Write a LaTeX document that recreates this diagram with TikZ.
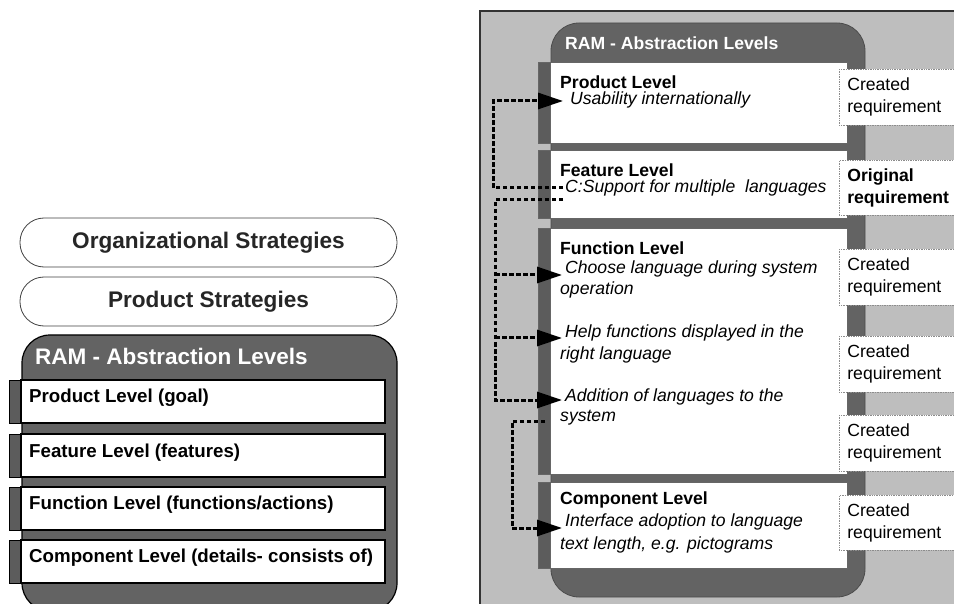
\documentclass[tikz,border=0pt]{standalone}
\usepackage{fontspec}
\setmainfont{Liberation Sans}
\usetikzlibrary{arrows.meta}
\definecolor{panelgray}{HTML}{BEBEBE}
\definecolor{ramdark}{HTML}{636363}
\definecolor{tabdark}{HTML}{5C5C5C}
\begin{document}
\begin{tikzpicture}[x=1pt,y=-1pt,
  pill/.style={draw=black!75, line width=0.8pt, fill=white, rounded corners=24pt,
    minimum width=377pt, minimum height=49pt, inner sep=0pt,
    font=\fontsize{22.6}{27}\selectfont\bfseries, text=black!85},
  titleL/.style={anchor=west, inner sep=0pt, text=white, font=\fontsize{22.5}{27}\selectfont\bfseries},
  titleR/.style={anchor=west, inner sep=0pt, text=white, font=\fontsize{17.6}{22}\selectfont\bfseries},
  lvlL/.style={anchor=west, inner sep=0pt, font=\fontsize{18.7}{22}\selectfont\bfseries},
  lvlR/.style={anchor=west, inner sep=0pt, font=\fontsize{17.6}{22}\selectfont\bfseries},
  itx/.style={anchor=west, inner sep=0pt, font=\fontsize{17.6}{22}\selectfont\itshape},
  reqbox/.style={anchor=north west, draw=black!45, densely dotted, line width=0.7pt, fill=white,
    text width=105pt, inner xsep=8pt, inner ysep=0pt, minimum height=56pt, align=left,
    font=\fontsize{17.6}{22}\selectfont},
  conn/.style={line width=3pt, dash pattern=on 4.5pt off 2.5pt, line cap=butt},
  tip/.style={-{Triangle[length=25pt,width=16pt]}}
]
\useasboundingbox (0,0) rectangle (954,604);
\clip (0,0) rectangle (954,604);

% ---------------- left panel ----------------
\node[pill] (org) at (208.5,242.5) {Organizational Strategies};
\node[pill] (pstrat) at (208.5,301.5) {Product Strategies};
\draw[fill=ramdark, draw=black, line width=1.2pt, rounded corners=28pt] (22,335) rectangle (397,611);
\node[titleL] (ramL) at (35,356) {RAM - Abstraction Levels};
\foreach \t/\b in {380/423, 434/477, 487/530, 540/583} {
  \draw[fill=tabdark, draw=black, line width=1pt] (9,\t) rectangle (21,\b);
  \draw[fill=white, draw=black, line width=1.8pt] (21,\t) rectangle (385,\b);
}
\node[lvlL] (plL) at (29,398) {Product Level (goal)};
\node[lvlL] (flL) at (29,453) {Feature Level (features)};
\node[lvlL] (fnL) at (29,505) {Function Level (functions/actions)};
\node[lvlL] (clL) at (29,558) {Component Level (details- consists of)};

% ---------------- right panel ----------------
\draw[fill=panelgray, draw=black!80, line width=1.3pt] (480,11) rectangle (975,625);
\draw[fill=ramdark, draw=black!70, line width=0.8pt, rounded corners=28pt] (551,23) rectangle (865,597);
\node[titleR] (ramR) at (565,43) {RAM - Abstraction Levels};
\foreach \t/\b in {62/143, 150/218, 228/474, 482/568} {
  \draw[fill=tabdark, draw=black!60, line width=0.6pt] (538,\t) rectangle (551,\b);
  \draw[fill=white, draw=black!60, line width=0.6pt] (550,\t) rectangle (847,\b);
}
\node[reqbox] (req1) at (839,69) {Created\\requirement};
\node[reqbox, font=\fontsize{17.6}{22}\selectfont\bfseries, minimum height=55pt] (req2) at (839,160) {Original\\requirement};
\node[reqbox] (req3) at (839,249) {Created\\requirement};
\node[reqbox] (req4) at (839,336) {Created\\requirement};
\node[reqbox] (req5) at (839,415) {Created\\requirement};
\node[reqbox, minimum height=55pt] (req6) at (839,495) {Created\\requirement};

\node[lvlR] (prodR) at (560,82) {Product Level};
\node[itx] (usab) at (570,100) {Usability internationally};
\node[lvlR] (featR) at (560,170) {Feature Level};
\node[itx] (csup) at (565,188) {C:Support for multiple\ \ languages};
\node[lvlR] (funcR) at (560,248) {Function Level};
\node[itx] (choose) at (565,269) {Choose language during system};
\node[itx] (oper) at (560,290) {operation};
\node[itx] (help) at (565,333) {Help functions displayed in the};
\node[itx] (rlang) at (560,355) {right language};
\node[itx] (addn) at (565,397) {Addition of languages to the};
\node[itx] (syst) at (560,418) {system};
\node[lvlR] (compR) at (560,500) {Component Level};
\node[itx] (iface) at (565,522) {Interface adoption to language};
\node[itx] (tlen) at (560,545) {text length, e.g. pictograms};

% connector end points
\coordinate (busA) at (493,0);
\coordinate (busB) at (495,0);
\coordinate (busC) at (512,0);
\coordinate (sA) at ([xshift=-2pt]csup.west);
\coordinate (sB) at ([shift={(-2pt,-12pt)}]csup.west);
\coordinate (sC) at ([shift={(-15pt,-3pt)}]syst.west);
\coordinate (tUsab) at ([shift={(-7pt,-1pt)}]usab.west);
\coordinate (tChoose) at ([shift={(-3pt,-6pt)}]choose.west);
\coordinate (tHelp) at ([shift={(-3pt,-5pt)}]help.west);
\coordinate (tAddn) at ([shift={(-3pt,-3pt)}]addn.west);
\coordinate (tIface) at ([shift={(-3pt,-6pt)}]iface.west);

\draw[conn, tip] (sA) -- (sA -| busA) |- (tUsab);
\draw[conn, tip] (sB) -- (sB -| busB) |- (tAddn);
\draw[conn, tip] (tChoose -| busB) -- (tChoose);
\draw[conn, tip] (tHelp -| busB) -- (tHelp);
\draw[conn, tip] (sC) -- (sC -| busC) |- (tIface);
\end{tikzpicture}
\end{document}
